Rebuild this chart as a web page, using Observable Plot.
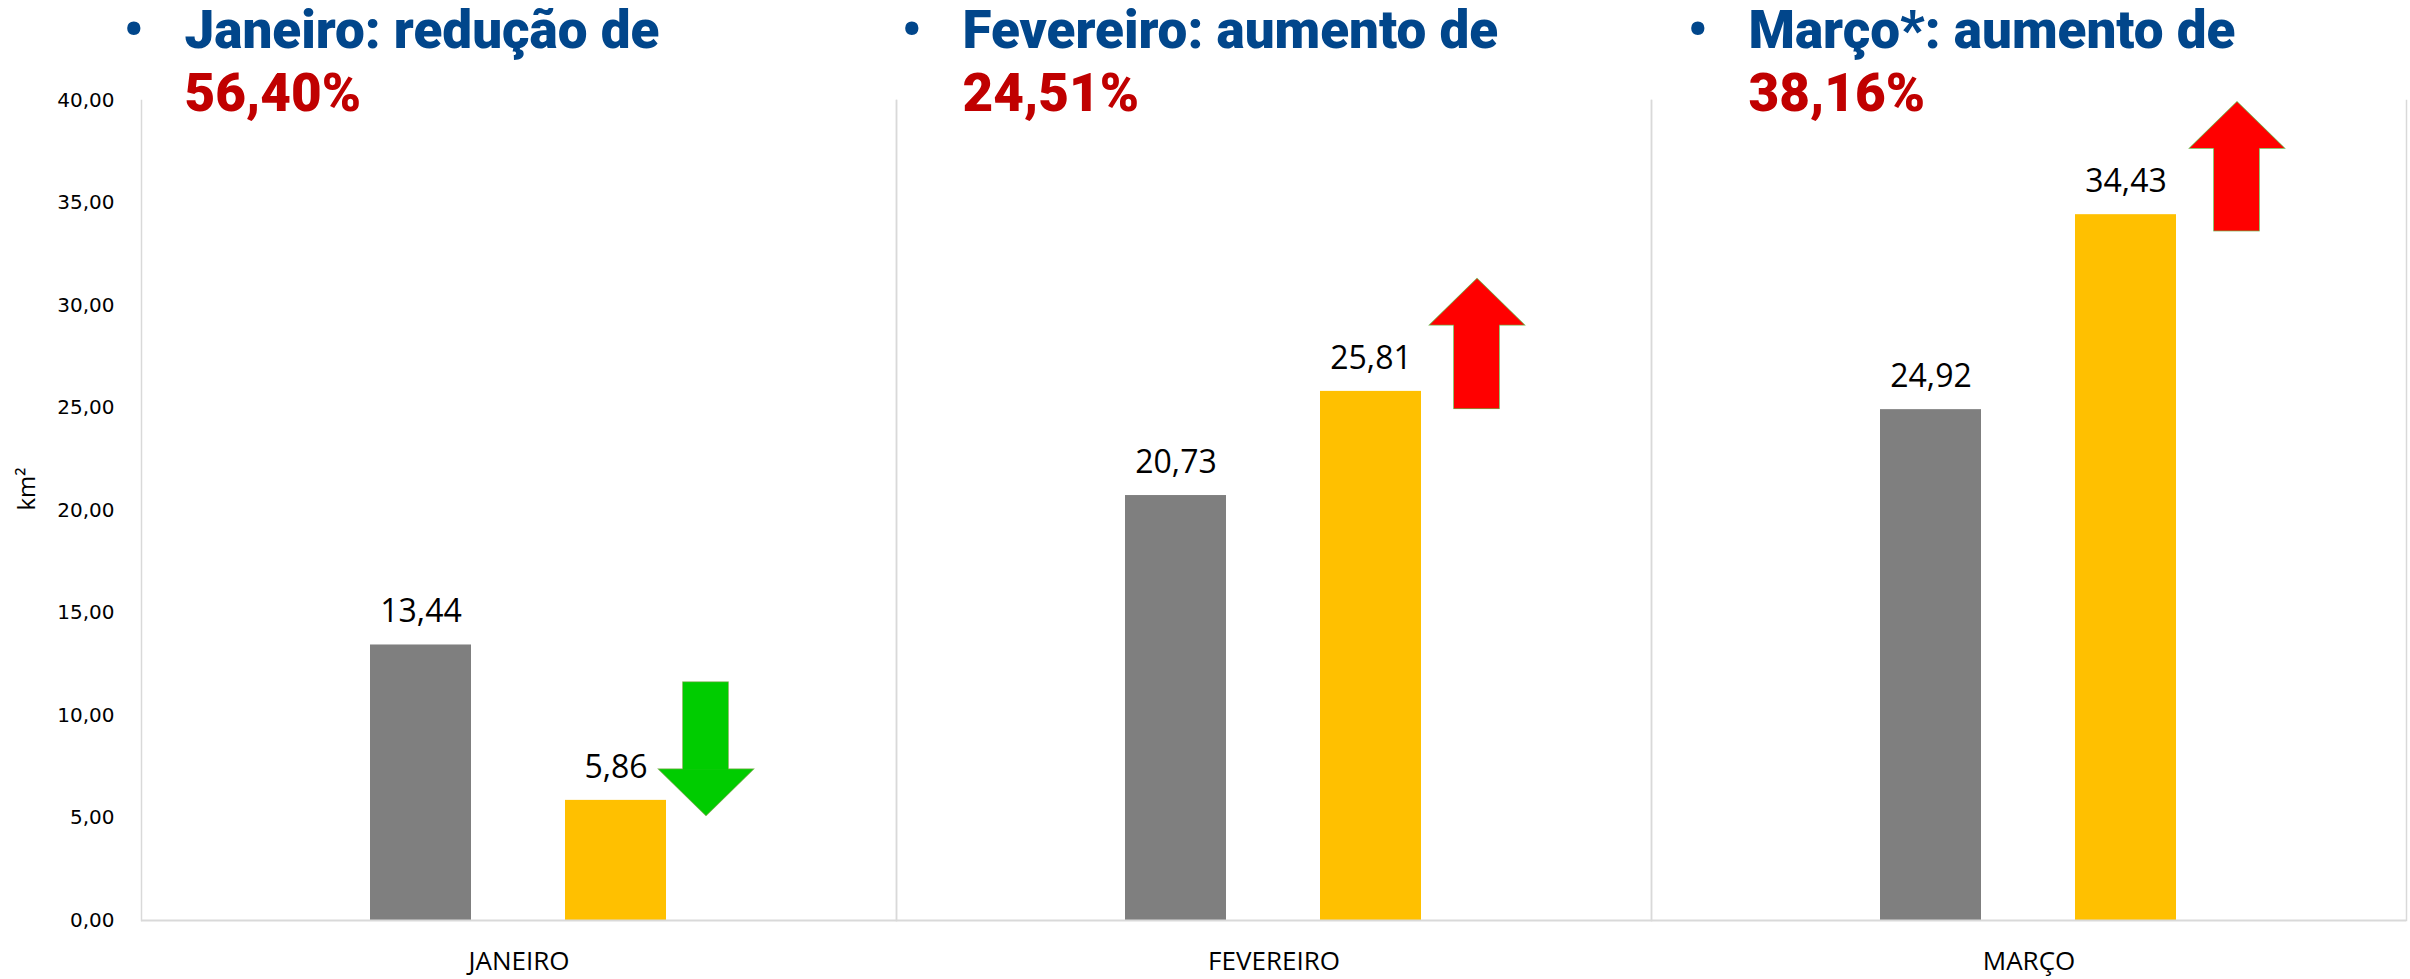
<!DOCTYPE html>
<html><head><meta charset="utf-8">
<script src="https://cdn.jsdelivr.net/npm/d3@7"></script>
<script src="https://cdn.jsdelivr.net/npm/@observablehq/plot@0.6"></script>
<style>
body{margin:0;background:#fff;overflow:hidden}
#chart svg{display:block}
g[aria-label^="y-axis"] text{font-family:"DejaVu Sans",sans-serif;font-size:20px;fill:#000}
g[aria-label^="fx-axis"] text{font-family:"Open Sans",sans-serif;font-size:26px;fill:#000}
</style></head><body><div id="chart"></div>
<script>
// ---- data ----
const meses = ["JANEIRO", "FEVEREIRO", "MARÇO"];
const series = ["anterior", "atual"];
const anterior = [13.44, 20.73, 24.92];
const atual = [5.86, 25.81, 34.43];
const titulos = ["Janeiro: redução de", "Fevereiro: aumento de", "Março*: aumento de"];
const variacoes = ["56,40%", "24,51%", "38,16%"];
const setaInicio = [11.6, 24.96, 33.63];
const setaFim = [5.14, 31.3, 39.93];
const yTicks = [0, 5, 10, 15, 20, 25, 30, 35, 40];

// ---- layout (pixels) ----
const titleDx = [43, 66, 97];
const arrowDx = [90, 106, 111];
const HEAD_H = 46, HEAD_W = 47, SHAFT_INSET = 28;

const bars = meses.flatMap((m, i) => [
  {mes: m, serie: series[0], valor: anterior[i]},
  {mes: m, serie: series[1], valor: atual[i]}
]);
const setas = meses.map((m, i) => ({mes: m, serie: series[1], inicio: setaInicio[i], fim: setaFim[i], sobe: setaFim[i] > setaInicio[i]}));
const fmt = v => v.toFixed(2).replace(".", ",");

const headUp = {draw(c) { c.moveTo(0, 0); c.lineTo(HEAD_W, HEAD_H); c.lineTo(-HEAD_W, HEAD_H); c.closePath(); }};
const headDown = {draw(c) { c.moveTo(0, 0); c.lineTo(HEAD_W, -HEAD_H); c.lineTo(-HEAD_W, -HEAD_H); c.closePath(); }};

const BLUE = "#01468b", RED = "#c00000", GRID = "#d9d9d9", OUTLINE = "#70ad47";

function arrowParts(s, i, stroke) {
  const color = s.sobe ? "#ff0000" : "#00cc00";
  const st = stroke ? {stroke: OUTLINE, strokeWidth: 1.5} : {stroke: "none"};
  return [
    Plot.barY([s], {fx: "mes", x: "serie", y1: "inicio", y2: "fim", fill: color, dx: arrowDx[i],
      insetLeft: SHAFT_INSET, insetRight: SHAFT_INSET,
      insetTop: s.sobe ? HEAD_H - 1 : 0, insetBottom: s.sobe ? 0 : HEAD_H - 1, ...st}),
    Plot.dot([s], {fx: "mes", x: "serie", y: "fim", symbol: s.sobe ? headUp : headDown, fill: color, dx: arrowDx[i], ...st})
  ];
}
const arrowMarks = [
  ...setas.flatMap((s, i) => arrowParts(s, i, true)),
  ...setas.flatMap((s, i) => arrowParts(s, i, false))
];

const titleMarks = meses.flatMap((m, i) => {
  const d = [{mes: m, t: titulos[i], p: variacoes[i]}];
  const common = {fx: "mes", frameAnchor: "top-left", lineAnchor: "bottom", fontSize: 53, fontWeight: 900, fontFamily: "Roboto, sans-serif"};
  return [
    Plot.text(d, {...common, text: () => "•", textAnchor: "middle", dx: titleDx[i] - 51, dy: -53, fill: BLUE}),
    Plot.text(d, {...common, text: "t", textAnchor: "start", dx: titleDx[i], dy: -53, fill: BLUE}),
    Plot.text(d, {...common, text: "p", textAnchor: "start", dx: titleDx[i], dy: 10, fill: RED})
  ];
});

const chart = Plot.plot({
  width: 2410,
  height: 979,
  marginLeft: 140,
  marginRight: 3,
  marginTop: 100,
  marginBottom: 59,
  fx: {domain: meses, padding: 0, axis: "bottom", tickSize: 0, tickPadding: 31, label: null},
  x: {domain: series, paddingInner: 0.48, paddingOuter: 1.1755, axis: null},
  y: {domain: [0, 40], ticks: yTicks, tickFormat: fmt, tickSize: 0, tickPadding: 27, label: null},
  color: {domain: series, range: ["#7f7f7f", "#ffc000"]},
  marks: [
    Plot.frame({anchor: "left", stroke: GRID, strokeWidth: 1.5}),
    Plot.frame({anchor: "right", stroke: GRID, strokeWidth: 1.5}),
    Plot.barY(bars, {fx: "mes", x: "serie", y: "valor", fill: "serie"}),
    Plot.ruleY([0], {stroke: GRID, strokeWidth: 2}),
    Plot.text(bars, {fx: "mes", x: "serie", y: "valor", text: d => fmt(d.valor), dy: -33, fontSize: 32, fontFamily: "Open Sans, sans-serif", fill: "#000"}),
    ...arrowMarks,
    ...titleMarks,
    Plot.text([{mes: meses[0], t: "km²"}], {fx: "mes", text: "t", frameAnchor: "left", dx: -114, rotate: -90, fontSize: 24, fontFamily: "Open Sans, sans-serif", fill: "#000"})
  ]
});
document.getElementById("chart").appendChild(chart);
</script>
</body></html>
